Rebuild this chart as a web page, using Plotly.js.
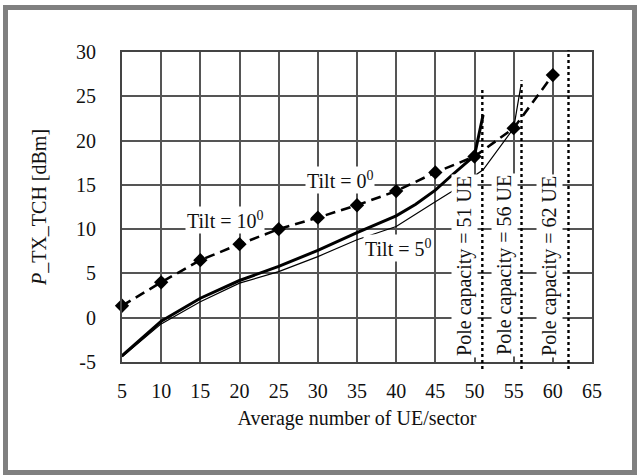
<!DOCTYPE html>
<html>
<head>
<meta charset="utf-8">
<script src="https://cdn.plot.ly/plotly-3.0.1.min.js"></script>
<style>
  html, body { margin: 0; padding: 0; background: #fff; }
  #wrap { position: relative; width: 637px; height: 475px; }
  #chart { width: 637px; height: 475px; }
  #frame { position: absolute; left: 3px; top: 5px; width: 634px; height: 470px;
           box-sizing: border-box; border: 5px solid #808080; pointer-events: none; }
</style>
</head>
<body>
<div id="wrap"><div id="chart"></div><div id="frame"></div></div>
<script>
// ---- data ----
const tilt0X = [5, 10, 15, 20, 25, 30, 35, 40, 45, 50, 55, 60];
const tilt0Y = [1.35, 4.0, 6.5, 8.3, 10.0, 11.3, 12.7, 14.3, 16.4, 18.2, 21.4, 27.4];

const tilt10X = [5, 10, 15, 20, 25, 30, 35, 40, 42.5, 45, 47, 49.4, 50, 51.1];
const tilt10Y = [-4.3, -0.4, 2.2, 4.2, 5.8, 7.6, 9.6, 11.5, 12.8, 14.4, 16.0, 17.9, 18.3, 22.9];

const tilt5X = [5, 10, 15, 20, 25, 30, 35, 40, 45, 47, 51.1, 55, 55.9];
const tilt5Y = [-4.4, -0.7, 1.8, 3.9, 5.2, 6.9, 8.8, 10.3, 13.1, 14.2, 16.7, 21.4, 26.1];

const poleCapacity = [51, 56, 62];
const poleTop = [25.7, 26.8, 30.2];
const poleBottom = -5.8;

const xTicks = [5, 10, 15, 20, 25, 30, 35, 40, 45, 50, 55, 60, 65];
const yTicks = [-5, 0, 5, 10, 15, 20, 25, 30];
const xRange = [5, 65];
const yRange = [-5, 30];

// ---- styles ----
const FONT = "'Liberation Serif', 'Times New Roman', Times, serif";
const toPaperY = v => (v - yRange[0]) / (yRange[1] - yRange[0]);

const traces = [
  { x: tilt10X, y: tilt10Y, mode: 'lines', line: { color: '#000', width: 3 }, hoverinfo: 'skip' },
  { x: tilt5X, y: tilt5Y, mode: 'lines', line: { color: '#000', width: 1.2 }, hoverinfo: 'skip' },
  { x: tilt0X, y: tilt0Y, mode: 'lines+markers', cliponaxis: false,
    line: { color: '#000', width: 2.6, dash: '10px,6px' },
    marker: { symbol: 'diamond', size: 11, color: '#000' }, hoverinfo: 'skip' }
];

const shapes = poleCapacity.map((p, i) => ({
  type: 'line', xref: 'x', yref: 'paper',
  x0: p, x1: p, y0: toPaperY(poleBottom), y1: toPaperY(poleTop[i]),
  line: { color: '#000', width: 2.4, dash: 'dot' }, layer: 'above'
}));

const annotations = [
  { x: 32.85, y: 15.6, text: 'Tilt = 0<sup>0</sup>' },
  { x: 18.15, y: 11.0, text: 'Tilt = 10<sup>0</sup>' },
  { x: 40.2, y: 7.9, text: 'Tilt = 5<sup>0</sup>' }
].map(a => Object.assign(a, {
  xref: 'x', yref: 'y', showarrow: false, bgcolor: '#fff', borderpad: 1,
  font: { family: FONT, size: 20, color: '#111' }, xanchor: 'center', yanchor: 'middle'
}));

const poleLabelX = [48.72, 53.83, 59.57];
poleCapacity.forEach((p, i) => {
  annotations.push({
    x: poleLabelX[i], y: 5.9, xref: 'x', yref: 'y', showarrow: false,
    text: 'Pole capacity = ' + p + ' UE', textangle: -90, bgcolor: '#fff', borderpad: 1,
    font: { family: FONT, size: 20, color: '#111' }, xanchor: 'center', yanchor: 'middle'
  });
});

const axisCommon = {
  showgrid: true, gridcolor: '#555', gridwidth: 2,
  showline: true, mirror: true, linecolor: '#444', linewidth: 2,
  zeroline: false, ticks: '', tickfont: { family: FONT, size: 20, color: '#111' },
  tickmode: 'array', fixedrange: true
};

const layout = {
  width: 637, height: 475,
  margin: { l: 122, r: 45, t: 52, b: 113 },
  paper_bgcolor: '#fff', plot_bgcolor: '#fff',
  showlegend: false,
  font: { family: FONT, size: 20, color: '#111' },
  xaxis: Object.assign({}, axisCommon, {
    range: xRange, tickvals: xTicks, ticktext: xTicks.map(String),
    ticklabelstandoff: 10,
    title: { text: 'Average number of UE/sector', font: { family: FONT, size: 20, color: '#111' }, standoff: 10 }
  }),
  yaxis: Object.assign({}, axisCommon, {
    range: yRange, tickvals: yTicks, ticktext: yTicks.map(String),
    ticklabelstandoff: 20,
    title: { text: '<i>P</i>_TX_TCH [dBm]', font: { family: FONT, size: 20, color: '#111' }, standoff: 24 }
  }),
  shapes: shapes,
  annotations: annotations
};

Plotly.newPlot('chart', traces, layout, { staticPlot: true, displayModeBar: false });
</script>
</body>
</html>
